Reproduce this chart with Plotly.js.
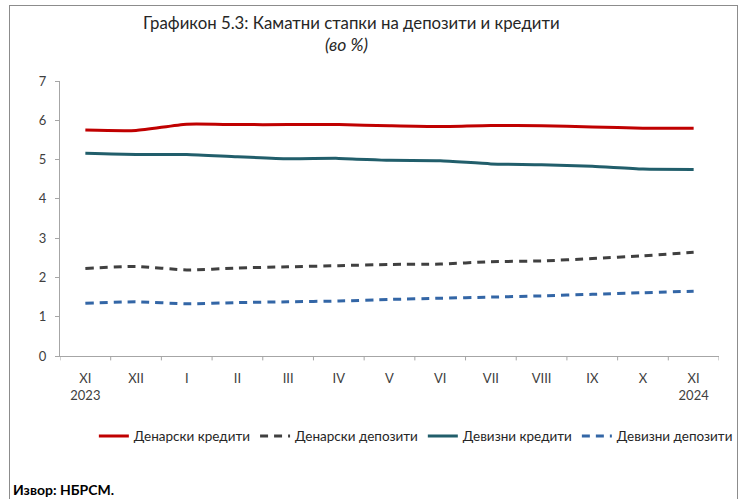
<!DOCTYPE html>
<html>
<head>
<meta charset="utf-8">
<script src="https://cdn.plot.ly/plotly-3.0.1.min.js"></script>
<style>
html,body{margin:0;padding:0;background:#fff;}
#wrap{position:relative;width:739px;height:499px;}
#chart{width:739px;height:499px;}
#frame{position:absolute;left:9px;top:5px;width:729px;height:500px;border:1px solid #8c8c8c;pointer-events:none;box-sizing:border-box;}
</style>
</head>
<body>
<div id="wrap"><div id="chart"></div><div id="frame"></div></div>
<script>
const months = ["XI 2023","XII","I","II","III","IV","V","VI","VII","VIII","IX","X","XI 2024"];
const tickLabels = ["XI<br>2023","XII","I","II","III","IV","V","VI","VII","VIII","IX","X","XI<br>2024"];
const denarLoans    = [5.75,5.74,5.90,5.89,5.89,5.89,5.86,5.84,5.87,5.86,5.83,5.80,5.80];
const denarDeposits = [2.23,2.28,2.19,2.24,2.27,2.30,2.33,2.34,2.40,2.42,2.48,2.55,2.64];
const fxLoans       = [5.16,5.13,5.13,5.07,5.02,5.03,4.98,4.97,4.89,4.87,4.83,4.76,4.75];
const fxDeposits    = [1.34,1.38,1.33,1.36,1.38,1.40,1.44,1.47,1.50,1.53,1.57,1.61,1.65];
const names = ["Денарски кредити","Денарски депозити","Девизни кредити","Девизни депозити"];

const font = "Lato, 'Noto Sans', sans-serif";
const mk = (y, name, color, dash) => ({
  x: months, y: y, name: name, type: "scatter", mode: "lines",
  line: {color: color, width: 3, dash: dash, shape: "spline", smoothing: 0.6}
});
const traces = [
  mk(denarLoans, names[0], "#C00000", "solid"),
  mk(denarDeposits, names[1], "#404040", "8px,6px"),
  mk(fxLoans, names[2], "#215E6B", "solid"),
  mk(fxDeposits, names[3], "#3366A6", "8px,6px")
];
const layout = {
  width: 739, height: 499,
  margin: {l: 60, r: 1, t: 81, b: 143},
  paper_bgcolor: "#fff", plot_bgcolor: "#fff",
  font: {family: font, size: 13, color: "#404040"},
  xaxis: {type: "category", tickmode: "array", tickvals: months, ticktext: tickLabels,
          range: [-0.5, 12.5], showgrid: false, zeroline: false,
          showline: true, linecolor: "#A6A6A6", linewidth: 1,
          ticks: "", ticklabelstandoff: 10, tickfont: {size: 13, color: "#404040"}},
  yaxis: {range: [0, 7], dtick: 1, showgrid: false, zeroline: false,
          showline: true, linecolor: "#A6A6A6", linewidth: 1,
          ticks: "outside", ticklen: 4, tickcolor: "#A6A6A6",
          ticklabelstandoff: 6, tickfont: {size: 13, color: "#404040"}},
  showlegend: true,
  legend: {orientation: "h", x: 0.54, xanchor: "center", y: -0.235, yanchor: "top",
           font: {size: 13.5, color: "#262626"}, itemwidth: 30, tracegroupgap: 0},
  annotations: [
    {text: "Графикон 5.3: Каматни стапки на депозити и кредити", xref: "paper", yref: "paper",
     x: 0.443, y: 1.2145, xanchor: "center", yanchor: "middle", showarrow: false,
     font: {size: 16.8, color: "#262626"}},
    {text: "<i>(во %)</i>", xref: "paper", yref: "paper",
     x: 0.435, y: 1.131, xanchor: "center", yanchor: "middle", showarrow: false,
     font: {size: 17.5, color: "#262626"}},
    {text: "<b>Извор: НБРСМ.</b>", xref: "paper", yref: "paper", x: -0.0737, y: -0.487,
     xanchor: "left", yanchor: "middle", showarrow: false, font: {size: 14, color: "#000"}}
  ],
  shapes: []
};
// x tick marks between categories
for (let i = 0; i <= 13; i++) {
  layout.shapes.push({type: "line", xref: "x", yref: "paper", x0: i - 0.5, x1: i - 0.5,
    y0: 0, y1: -0.016, line: {color: "#A6A6A6", width: 1}});
}
Plotly.newPlot("chart", traces, layout, {displayModeBar: false, staticPlot: true});
</script>
</body>
</html>
